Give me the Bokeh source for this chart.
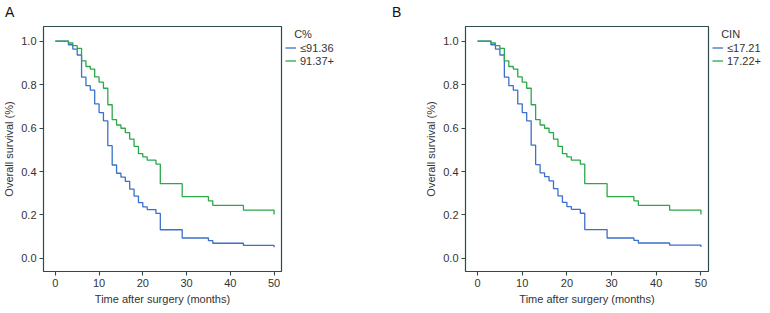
from bokeh.plotting import figure
from bokeh.layouts import row, column
from bokeh.models import Legend, LegendItem, FixedTicker, Range1d, Div
from bokeh.embed import file_html
from bokeh.resources import INLINE

# ---------------- data ----------------
x_ticks = [0, 10, 20, 30, 40, 50]
y_ticks = [0.0, 0.2, 0.4, 0.6, 0.8, 1.0]
y_tick_labels = {0.0: "0.0", 0.2: "0.2", 0.4: "0.4", 0.6: "0.6", 0.8: "0.8", 1.0: "1.0"}

# Panel A (C%)
a_low_months = [0, 3, 4, 5, 6, 7, 8, 9, 10, 11, 12, 13, 14, 15, 16, 17, 18, 19, 20, 21, 23, 24, 29, 35, 36, 43, 50]
a_low_surv = [1.0, 0.983, 0.963, 0.936, 0.834, 0.795, 0.774, 0.711, 0.671, 0.633, 0.519, 0.43, 0.392, 0.374,
              0.355, 0.319, 0.287, 0.257, 0.237, 0.225, 0.207, 0.132, 0.094, 0.082, 0.07, 0.06, 0.052]
a_high_months = [0, 3, 4, 5, 6, 7, 8, 9, 10, 11, 12, 13, 14, 15, 16, 17, 18, 19, 20, 21, 23, 24, 29, 35, 36, 43, 50]
a_high_surv = [1.0, 0.991, 0.979, 0.966, 0.909, 0.883, 0.871, 0.835, 0.811, 0.783, 0.707, 0.639, 0.614, 0.599,
               0.579, 0.549, 0.516, 0.482, 0.467, 0.452, 0.434, 0.344, 0.284, 0.265, 0.244, 0.222, 0.202]
a_title = "C%"
a_labels = ["\u226491.36", "91.37+"]

# Panel B (CIN)
b_low_months = [0, 3, 4, 5, 6, 7, 8, 9, 10, 11, 12, 13, 14, 15, 16, 17, 18, 19, 20, 21, 23, 24, 29, 35, 36, 43, 50]
b_low_surv = [1.0, 0.983, 0.963, 0.936, 0.834, 0.795, 0.774, 0.711, 0.671, 0.633, 0.521, 0.432, 0.394, 0.376,
              0.357, 0.321, 0.288, 0.258, 0.238, 0.226, 0.208, 0.133, 0.094, 0.083, 0.071, 0.061, 0.053]
b_high_months = [0, 3, 4, 5, 6, 7, 8, 9, 10, 11, 12, 13, 14, 15, 16, 17, 18, 19, 20, 21, 23, 24, 29, 35, 36, 43, 50]
b_high_surv = [1.0, 0.991, 0.979, 0.966, 0.909, 0.883, 0.871, 0.835, 0.811, 0.783, 0.707, 0.639, 0.614, 0.599,
               0.579, 0.549, 0.516, 0.482, 0.467, 0.452, 0.434, 0.344, 0.284, 0.265, 0.244, 0.222, 0.202]
b_title = "CIN"
b_labels = ["\u226417.21", "17.22+"]

# ---------------- style ----------------
FONT = "Liberation Sans"
BLUE = "#3b6fcc"
GREEN = "#2aa84a"
FRAME = "#2f4a4d"
TEXT = "#333333"

FIG_H = 283


def make_panel(letter, low_m, low_s, high_m, high_s, title, labels, width, min_left, legend_w):
    plot_w = width - legend_w
    p = figure(width=plot_w, height=FIG_H, min_border_left=min_left, min_border_right=2,
               min_border_top=2, min_border_bottom=34,
               x_range=Range1d(-2.7, 51.7), y_range=Range1d(-0.06, 1.067),
               output_backend="svg", toolbar_location=None)
    p.background_fill_color = "white"
    p.border_fill_color = "white"
    p.outline_line_color = FRAME
    p.outline_line_width = 1.2
    p.grid.visible = False

    p.step(low_m, low_s, mode="after", line_color=BLUE, line_width=1.3)
    p.step(high_m, high_s, mode="after", line_color=GREEN, line_width=1.3)

    for ax in (p.xaxis[0], p.yaxis[0]):
        ax.axis_line_color = None
        ax.major_tick_line_color = FRAME
        ax.major_tick_line_width = 1.1
        ax.major_tick_out = 4
        ax.major_tick_in = 0
        ax.minor_tick_line_color = None
        ax.major_label_text_font = FONT
        ax.major_label_text_font_size = "11px"
        ax.major_label_text_color = TEXT
        ax.axis_label_text_font = FONT
        ax.axis_label_text_font_size = "11px"
        ax.axis_label_text_font_style = "normal"
        ax.axis_label_text_color = TEXT

    p.xaxis.ticker = FixedTicker(ticks=x_ticks)
    p.yaxis.ticker = FixedTicker(ticks=y_ticks)
    p.yaxis.major_label_overrides = y_tick_labels
    p.xaxis.axis_label = "Time after surgery (months)"
    p.yaxis.axis_label = "Overall survival (%)"
    p.xaxis.major_label_standoff = 3
    p.xaxis.axis_label_standoff = 3
    p.yaxis.major_label_standoff = 3
    p.yaxis.axis_label_standoff = 3

    # legend lives in its own small, axis-less figure to the right of the plot box
    lg = figure(width=legend_w, height=FIG_H, x_axis_type=None, y_axis_type=None,
                x_range=Range1d(1000, 1001), y_range=Range1d(1000, 1001),
                min_border=0, output_backend="svg", toolbar_location=None)
    lg.outline_line_color = None
    lg.grid.visible = False
    l_low = lg.step(low_m, low_s, mode="after", line_color=BLUE, line_width=1.3)
    l_high = lg.step(high_m, high_s, mode="after", line_color=GREEN, line_width=1.3)
    legend = Legend(items=[LegendItem(label=labels[0], renderers=[l_low]),
                           LegendItem(label=labels[1], renderers=[l_high])],
                    location="top_left", margin=2, padding=2,
                    border_line_color=None, background_fill_alpha=0,
                    label_text_font=FONT, label_text_font_size="11px", label_text_color=TEXT,
                    glyph_width=11, glyph_height=13, label_height=13, label_standoff=4,
                    spacing=0, title="\u00a0\u00a0\u00a0" + title)
    legend.title_text_font = FONT
    legend.title_text_font_size = "11px"
    legend.title_text_font_style = "normal"
    legend.title_text_color = TEXT
    legend.title_standoff = 1
    lg.add_layout(legend)

    head = Div(text=letter, width=width, height=14,
               styles={"font-family": FONT, "font-size": "14px", "line-height": "14px", "color": "#111111"})
    return column(head, row(p, lg))


pa = make_panel("A", a_low_months, a_low_surv, a_high_months, a_high_surv, a_title, a_labels, 377, 38, 94)
pb = make_panel("B", b_low_months, b_low_surv, b_high_months, b_high_surv, b_title, b_labels, 377, 78, 54)

layout = row(pa, pb)
open("out.html", "w").write(file_html(layout, INLINE))
